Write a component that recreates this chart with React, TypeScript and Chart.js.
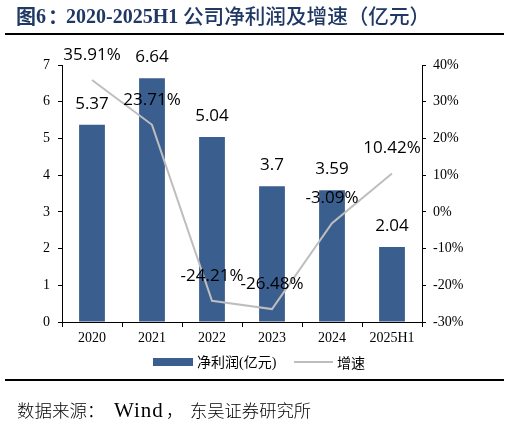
import React, { useEffect, useRef } from "react";
import { Chart, registerables } from "chart.js";

Chart.register(...registerables);

const categories = ["2020", "2021", "2022", "2023", "2024", "2025H1"];
const profit = [5.37, 6.64, 5.04, 3.7, 3.59, 2.04];
const growth = [35.91, 23.71, -24.21, -26.48, -3.09, 10.42];
const leftRange = [0, 7];
const rightRange = [-30, 40];

const BAR = "#3A5E8E";
const LINE = "#BEBEBE";
const TITLE = "#1F3864";
const SERIF = '"Liberation Serif", "Times New Roman", serif';
const CJK = '"Noto Sans CJK SC"';

const labelPlugin = {
  id: "valueLabels",
  afterDatasetsDraw(chart: any) {
    const ctx = chart.ctx;
    ctx.save();
    ctx.font = '17px "Open Sans"';
    ctx.fillStyle = "#000";
    ctx.textAlign = "center";
    ctx.textBaseline = "middle";
    chart.getDatasetMeta(0).data.forEach((el: any, i: number) => {
      ctx.fillText(String(profit[i]), el.x, el.y - 21);
    });
    chart.getDatasetMeta(1).data.forEach((el: any, i: number) => {
      ctx.fillText(growth[i].toFixed(2) + "%", el.x, el.y - 25);
    });
    ctx.restore();
  },
};

export default function App() {
  const ref = useRef<HTMLCanvasElement>(null);

  useEffect(() => {
    if (!ref.current) return;
    const tickFont = { family: SERIF, size: 14 };
    const chart = new Chart(ref.current, {
      type: "bar",
      data: {
        labels: categories,
        datasets: [
          {
            type: "bar",
            label: "净利润(亿元)",
            data: profit,
            backgroundColor: BAR,
            yAxisID: "y",
            categoryPercentage: 1,
            barPercentage: 0.43,
            order: 1,
          },
          {
            type: "line",
            label: "增速",
            data: growth,
            borderColor: LINE,
            borderWidth: 2,
            pointRadius: 0,
            tension: 0,
            yAxisID: "y1",
            order: 0,
          } as any,
        ],
      },
      plugins: [labelPlugin],
      options: {
        responsive: false,
        animation: false,
        layout: { padding: { left: 0, right: 0, top: 65, bottom: 75 } },
        plugins: {
          legend: { display: false },
          tooltip: { enabled: false },
          title: { display: false },
        },
        scales: {
          x: {
            afterFit: (s: any) => {
              s.height = 30;
            },
            grid: {
              display: true,
              drawOnChartArea: false,
              drawTicks: true,
              tickLength: 5,
              color: "#000",
              offset: true,
            },
            border: { color: "#000", width: 1 },
            ticks: { font: tickFont, color: "#000", padding: 3, maxRotation: 0 },
          },
          y: {
            position: "left",
            min: leftRange[0],
            max: leftRange[1],
            afterFit: (s: any) => {
              s.width = 62;
            },
            grid: {
              drawOnChartArea: false,
              drawTicks: true,
              tickLength: 4,
              color: "#000",
            },
            border: { color: "#000", width: 1 },
            ticks: { stepSize: 1, font: tickFont, color: "#000", padding: 8 },
          },
          y1: {
            position: "right",
            min: rightRange[0],
            max: rightRange[1],
            afterFit: (s: any) => {
              s.width = 88;
            },
            grid: {
              drawOnChartArea: false,
              drawTicks: true,
              tickLength: 4,
              color: "#000",
            },
            border: { color: "#000", width: 1 },
            ticks: {
              stepSize: 10,
              font: tickFont,
              color: "#000",
              padding: 7,
              callback: (v: any) => v + "%",
            },
          },
        },
      } as any,
    });
    return () => chart.destroy();
  }, []);

  const abs = (extra: React.CSSProperties): React.CSSProperties => ({
    position: "absolute",
    whiteSpace: "nowrap",
    ...extra,
  });

  const titleBase = (extra: React.CSSProperties) =>
    abs({ top: 6, lineHeight: "20px", color: TITLE, fontWeight: "bold", ...extra });

  return (
    <div
      style={{
        position: "fixed",
        left: 0,
        top: 0,
        width: 510,
        height: 427,
        background: "#fff",
        overflow: "hidden",
      }}
    >
      <canvas
        ref={ref}
        width={510}
        height={427}
        style={{ position: "absolute", left: 0, top: 0, width: 510, height: 427 }}
      />
      {/* Title */}
      <div style={titleBase({ left: 16, fontSize: 20, fontFamily: CJK })}>图</div>
      <div style={titleBase({ left: 36, fontSize: 20, fontFamily: SERIF })}>6</div>
      <div style={titleBase({ left: 48, fontSize: 20, fontFamily: CJK })}>：</div>
      <div style={titleBase({ left: 66, fontSize: 20, fontFamily: SERIF })}>2020-2025H1</div>
      <div style={titleBase({ left: 183, top: 5, fontSize: 20.6, fontFamily: CJK, fontWeight: 500 })}>
        公司净利润及增速（亿元）
      </div>
      <div style={abs({ left: 5, top: 33, width: 499, height: 2, background: "#000" })} />
      {/* Legend */}
      <div style={abs({ left: 153, top: 358, width: 40, height: 8, background: BAR })} />
      <div
        style={abs({
          left: 197,
          top: 354,
          fontSize: 14,
          lineHeight: "17px",
          fontFamily: SERIF + ", " + CJK,
          color: "#000",
        })}
      >
        净利润(亿元)
      </div>
      <div style={abs({ left: 294, top: 361, width: 39, height: 2, background: LINE })} />
      <div
        style={abs({
          left: 337,
          top: 354,
          fontSize: 14,
          lineHeight: "17px",
          fontFamily: CJK,
          color: "#000",
        })}
      >
        增速
      </div>
      <div style={abs({ left: 5, top: 379, width: 499, height: 2, background: "#000" })} />
      {/* Source */}
      <div
        style={abs({
          left: 17,
          top: 401,
          fontSize: 17.5,
          lineHeight: "18px",
          fontFamily: CJK,
          fontWeight: 300,
          color: "#000",
        })}
      >
        数据来源：
      </div>
      <div
        style={abs({
          left: 114,
          top: 400,
          fontSize: 21,
          lineHeight: "20px",
          fontFamily: SERIF,
          letterSpacing: 1,
          color: "#000",
        })}
      >
        Wind
      </div>
      <div
        style={abs({
          left: 166,
          top: 401,
          fontSize: 17.5,
          lineHeight: "18px",
          fontFamily: CJK,
          fontWeight: 300,
          color: "#000",
        })}
      >
        ，
      </div>
      <div
        style={abs({
          left: 190,
          top: 401,
          fontSize: 17.3,
          lineHeight: "18px",
          fontFamily: CJK,
          fontWeight: 300,
          color: "#000",
        })}
      >
        东吴证券研究所
      </div>
    </div>
  );
}
